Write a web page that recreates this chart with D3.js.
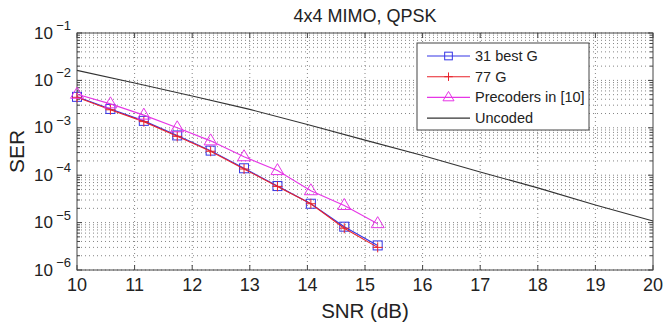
<!DOCTYPE html>
<html>
<head>
<meta charset="utf-8">
<script src="https://cdn.jsdelivr.net/npm/d3@7"></script>
<style>
  body { margin: 0; background: #fff; }
  text { font-family: "Liberation Sans", Arial, sans-serif; fill: #222; }
</style>
</head>
<body>
<div id="chart"></div>
<script>
// data
const snr = [10, 10.58, 11.16, 11.74, 12.32, 12.9, 13.48, 14.06, 14.64, 15.22];
const ser31 = [4.5e-3, 2.5e-3, 1.4e-3, 6.9e-4, 3.3e-4, 1.4e-4, 5.9e-5, 2.5e-5, 8.2e-6, 3.3e-6];
const ser77 = [4.4e-3, 2.4e-3, 1.35e-3, 6.6e-4, 3.2e-4, 1.35e-4, 5.8e-5, 2.5e-5, 7.6e-6, 3.0e-6];
const serPrec = [5.1e-3, 3.2e-3, 1.85e-3, 1.0e-3, 5.3e-4, 2.45e-4, 1.25e-4, 4.7e-5, 2.3e-5, 9.5e-6];
const snrUncoded = [10, 11, 12, 13, 14, 15, 16, 17, 18, 19, 20];
const serUncoded = [1.63e-2, 8.8e-3, 4.7e-3, 2.45e-3, 1.17e-3, 5.5e-4, 2.6e-4, 1.17e-4, 5.4e-5, 2.35e-5, 1.08e-5];
const xTicks = [10, 11, 12, 13, 14, 15, 16, 17, 18, 19, 20];
const yExps = [-1, -2, -3, -4, -5, -6];
const legendLabels = ["31 best G", "77 G", "Precoders in [10]", "Uncoded"];

const width = 664, height = 326;
const margin = {top: 33, right: 11, bottom: 56, left: 77};

const svg = d3.select("#chart").append("svg")
  .attr("width", width).attr("height", height);

const x = d3.scaleLinear().domain([10, 20]).range([margin.left, width - margin.right]);
const y = d3.scaleLog().domain([1e-6, 1e-1]).range([height - margin.bottom, margin.top]);

const x0 = x.range()[0], x1 = x.range()[1], y0 = y.range()[0], y1 = y.range()[1];

// grid
let minorVals = [];
for (let e = -6; e < -1; e++) {
  for (let m = 2; m <= 9; m++) minorVals.push(m * Math.pow(10, e));
}
const grid = svg.append("g").attr("stroke", "#777").attr("stroke-width", 0.9)
  .attr("stroke-dasharray", "1,3");
grid.selectAll(".hmin").data(minorVals.concat(yExps.map(e => Math.pow(10, e))))
  .enter().append("line")
  .attr("x1", x0).attr("x2", x1)
  .attr("y1", d => y(d)).attr("y2", d => y(d));
grid.selectAll(".vmaj").data(xTicks.slice(1, -1))
  .enter().append("line")
  .attr("x1", d => x(d)).attr("x2", d => x(d))
  .attr("y1", y0).attr("y2", y1);

// ticks (inside, both sides)
const ticks = svg.append("g").attr("stroke", "#444").attr("stroke-width", 1);
xTicks.forEach(t => {
  ticks.append("line").attr("x1", x(t)).attr("x2", x(t)).attr("y1", y0).attr("y2", y0 - 5);
  ticks.append("line").attr("x1", x(t)).attr("x2", x(t)).attr("y1", y1).attr("y2", y1 + 5);
});
yExps.forEach(e => {
  const v = y(Math.pow(10, e));
  ticks.append("line").attr("x1", x0).attr("x2", x0 + 5).attr("y1", v).attr("y2", v);
  ticks.append("line").attr("x1", x1).attr("x2", x1 - 5).attr("y1", v).attr("y2", v);
});
minorVals.forEach(m => {
  const v = y(m);
  ticks.append("line").attr("x1", x0).attr("x2", x0 + 3).attr("y1", v).attr("y2", v);
  ticks.append("line").attr("x1", x1).attr("x2", x1 - 3).attr("y1", v).attr("y2", v);
});

// axes box
svg.append("rect").attr("x", x0).attr("y", y1)
  .attr("width", x1 - x0).attr("height", y0 - y1)
  .attr("fill", "none").attr("stroke", "#444").attr("stroke-width", 1);

// tick labels
svg.append("g").selectAll("text").data(xTicks).enter().append("text")
  .attr("x", d => x(d)).attr("y", y0 + 21)
  .attr("text-anchor", "middle").style("font-size", "18px")
  .text(d => d);

const yl = svg.append("g").selectAll("g").data(yExps).enter().append("g")
  .attr("transform", d => "translate(" + (x0 - 6) + "," + y(Math.pow(10, d)) + ")");
yl.append("text").attr("x", -18).attr("y", 5.5).attr("text-anchor", "end")
  .style("font-size", "17px").text("10");
yl.append("text").attr("x", 0).attr("y", -3).attr("text-anchor", "end")
  .style("font-size", "13px").text(d => "\u2212" + (-d));

// labels
svg.append("text").attr("x", (x0 + x1) / 2).attr("y", 22)
  .attr("text-anchor", "middle").style("font-size", "18px").text("4x4 MIMO, QPSK");
svg.append("text").attr("x", (x0 + x1) / 2).attr("y", 318)
  .attr("text-anchor", "middle").style("font-size", "20.5px").text("SNR (dB)");
svg.append("text").attr("transform", "translate(24," + (y0 + y1) / 2 + ") rotate(-90)")
  .attr("text-anchor", "middle").style("font-size", "21px").text("SER");

// series
const series = [
  {xs: snr, ys: ser31, color: "#3535e6", marker: "square"},
  {xs: snr, ys: ser77, color: "#e8222a", marker: "plus"},
  {xs: snr, ys: serPrec, color: "#e636e6", marker: "triangle"},
  {xs: snrUncoded, ys: serUncoded, color: "#333", marker: null}
];

const line = d3.line().x(d => x(d[0])).y(d => y(d[1]));

function drawMarker(g, kind, color, sc) {
  sc = sc || 1;
  if (kind === "square") {
    g.append("rect").attr("x", -4.5 * sc).attr("y", -4.5 * sc).attr("width", 9 * sc).attr("height", 9 * sc)
      .attr("fill", "none").attr("stroke", color).attr("stroke-width", 1);
  } else if (kind === "plus") {
    g.append("path").attr("d", "M" + (-5 * sc) + ",0H" + (5 * sc) + "M0," + (-5 * sc) + "V" + (5 * sc))
      .attr("stroke", color).attr("stroke-width", 1);
  } else if (kind === "triangle") {
    g.append("path").attr("d", "M0," + (-7 * sc) + "L" + (6.5 * sc) + "," + (4 * sc) + "L" + (-6.5 * sc) + "," + (4 * sc) + "Z")
      .attr("fill", "none").attr("stroke", color).attr("stroke-width", 1);
  }
}

series.forEach(s => {
  const pts = s.xs.map((v, i) => [v, s.ys[i]]);
  svg.append("path").datum(pts).attr("d", line)
    .attr("fill", "none").attr("stroke", s.color).attr("stroke-width", 1.1);
  if (s.marker) {
    pts.forEach(p => {
      const g = svg.append("g").attr("transform", "translate(" + x(p[0]) + "," + y(p[1]) + ")");
      drawMarker(g, s.marker, s.color);
    });
  }
});

// legend
const legend = svg.append("g").attr("transform", "translate(417,43)");
legend.append("rect").attr("width", 172).attr("height", 87)
  .attr("fill", "#fff").attr("stroke", "#444").attr("stroke-width", 1);
legendLabels.forEach((lab, i) => {
  const ly = 13 + i * 20.7;
  const s = series[i];
  legend.append("line").attr("x1", 10).attr("x2", 53).attr("y1", ly).attr("y2", ly)
    .attr("stroke", s.color).attr("stroke-width", 1.1);
  if (s.marker) {
    const g = legend.append("g").attr("transform", "translate(31.5," + ly + ")");
    drawMarker(g, s.marker, s.color, 0.85);
  }
  legend.append("text").attr("x", 58).attr("y", ly + 5)
    .style("font-size", "14.5px").text(lab);
});
</script>
</body>
</html>
